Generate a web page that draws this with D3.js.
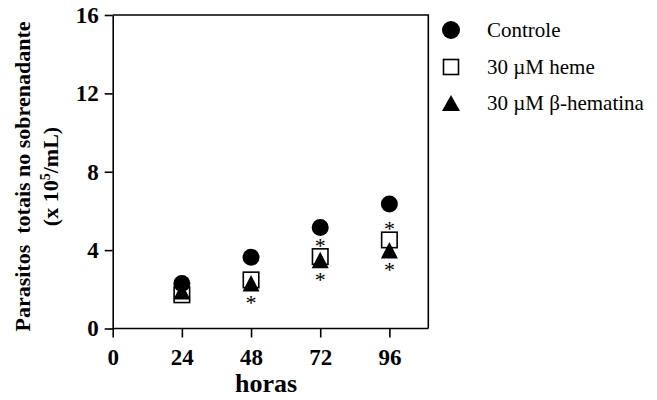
<!DOCTYPE html>
<html>
<head>
<meta charset="utf-8">
<script src="https://cdn.jsdelivr.net/npm/d3@7"></script>
<style>
  html, body { margin: 0; padding: 0; background: #fff; }
  svg { display: block; }
</style>
</head>
<body>
<svg id="chart" width="657" height="400"></svg>
<script>
// Time points (hours) and parasite counts (x 10^5/mL)
const hours = [24, 48, 72, 96];
const controle = [2.3, 3.64, 5.15, 6.35];
const heme = [1.72, 2.48, 3.67, 4.52];
const hematina = [1.9, 2.31, 3.5, 4.0];
// Significance flags (*) for each treatment at each time point
const hemeSig = [false, false, true, true];
const hematinaSig = [false, true, true, true];
const xTicks = [0, 24, 48, 72, 96];
const yTicks = [0, 4, 8, 12, 16];
const seriesNames = ["Controle", "30 \u00b5M heme", "30 \u00b5M \u03b2-hematina"];

(function () {
const svg = d3.select("#chart");
const serif = "'Liberation Serif', 'Times New Roman', serif";

const mLeft = 112.7, mRight = 428.3, mTop = 15, mBottom = 328.5;
const x = d3.scaleLinear().domain([0, 109.5]).range([mLeft, mRight]);
const y = d3.scaleLinear().domain([0, 16]).range([mBottom, mTop]);

// Frame (top and right sides)
svg.append("path")
  .attr("d", `M${mLeft},${mTop}H${mRight}V${mBottom}`)
  .attr("fill", "none").attr("stroke", "#000").attr("stroke-width", 1.6);

// Axes
const xAxis = svg.append("g")
  .attr("transform", `translate(0,${mBottom})`)
  .call(d3.axisBottom(x).tickValues(xTicks).tickSize(9).tickPadding(11).tickSizeOuter(0));
const yAxis = svg.append("g")
  .attr("transform", `translate(${mLeft},0)`)
  .call(d3.axisLeft(y).tickValues(yTicks).tickSize(8).tickPadding(6).tickSizeOuter(0));

[xAxis, yAxis].forEach(g => {
  g.select(".domain").attr("stroke", "#000").attr("stroke-width", 1.6);
  g.selectAll(".tick line").attr("stroke", "#000").attr("stroke-width", 1.6);
  g.selectAll(".tick text")
    .attr("fill", "#000")
    .style("font-family", serif)
    .style("font-weight", "bold")
    .style("font-size", "23px");
});
xAxis.select(".domain").attr("d", `M${mLeft - 0.8},0H${mRight}`);

// Axis titles
svg.append("text")
  .attr("x", 266).attr("y", 392)
  .attr("text-anchor", "middle")
  .style("font-family", serif).style("font-weight", "bold").style("font-size", "26px")
  .text("horas");

const yTitle = svg.append("g")
  .attr("transform", "translate(0,176.5) rotate(-90)")
  .style("font-family", serif).style("font-weight", "bold").style("font-size", "22px");
yTitle.append("text")
  .attr("x", 0).attr("y", 30)
  .attr("text-anchor", "middle")
  .attr("xml:space", "preserve")
  .text("Parasitos  totais no sobrenadante");
const l2 = yTitle.append("text")
  .attr("x", 0).attr("y", 58)
  .attr("text-anchor", "middle");
l2.append("tspan").text("(x 10");
l2.append("tspan").attr("dy", -8).style("font-size", "14px").text("5");
l2.append("tspan").attr("dy", 8).text("/mL)");

// Marker shapes
const circleR = 8.5;
const sq = 15.5;
// triangle centred on its bounding box
function triPath(cx, cy, w, h) {
  return `M${cx},${cy - h / 2}L${cx + w / 2},${cy + h / 2}L${cx - w / 2},${cy + h / 2}Z`;
}

const pts = hours.map((h, i) => ({ h, c: controle[i], m: heme[i], b: hematina[i], ms: hemeSig[i], bs: hematinaSig[i] }));

// Controle
svg.append("g").selectAll("circle").data(pts).join("circle")
  .attr("cx", d => x(d.h)).attr("cy", d => y(d.c)).attr("r", circleR).attr("fill", "#000");

// Significance asterisks
const star = svg.append("g")
  .style("font-family", serif).style("font-size", "22px").attr("text-anchor", "middle");
star.selectAll("text.m").data(pts.filter(d => d.ms)).join("text").attr("class", "m")
  .attr("x", d => x(d.h)).attr("y", d => y(d.m) - 14 + 10).text("*");
star.selectAll("text.b").data(pts.filter(d => d.bs)).join("text").attr("class", "b")
  .attr("x", d => x(d.h)).attr("y", d => y(d.b) + 17 + 10).text("*");

// Heme (open squares)
svg.append("g").selectAll("rect").data(pts).join("rect")
  .attr("x", d => x(d.h) - sq / 2).attr("y", d => y(d.m) - sq / 2)
  .attr("width", sq).attr("height", sq)
  .attr("fill", "none").attr("stroke", "#000").attr("stroke-width", 1.6);

// beta-hematina (filled triangles)
svg.append("g").selectAll("path").data(pts).join("path")
  .attr("d", d => triPath(x(d.h), y(d.b), 17, 16.5)).attr("fill", "#000");

// Legend
const legY = [30, 67, 103];
const lg = svg.append("g");
lg.append("circle").attr("cx", 451).attr("cy", legY[0]).attr("r", 9).attr("fill", "#000");
lg.append("rect").attr("x", 451 - 7.5).attr("y", legY[1] - 7.5).attr("width", 15).attr("height", 15)
  .attr("fill", "none").attr("stroke", "#000").attr("stroke-width", 1.6);
lg.append("path").attr("d", triPath(451, legY[2], 18, 16)).attr("fill", "#000");
lg.selectAll("text").data(seriesNames).join("text")
  .attr("x", 487).attr("y", (d, i) => legY[i] + 7)
  .style("font-family", serif).style("font-size", "21px")
  .text(d => d);
})();
</script>
</body>
</html>
